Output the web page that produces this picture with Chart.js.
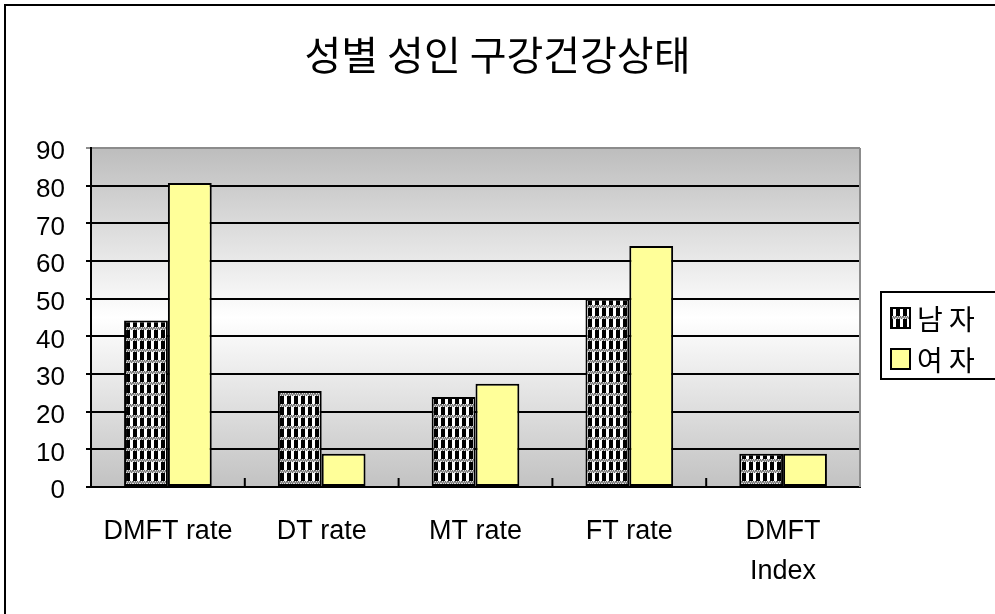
<!DOCTYPE html>
<html>
<head>
<meta charset="utf-8">
<script src="https://cdn.jsdelivr.net/npm/chart.js@4.4.1/dist/chart.umd.min.js"></script>
<style>
  html, body { margin: 0; padding: 0; background: #fff; overflow: hidden; }
  #wrap { position: absolute; left: 0; top: 0; width: 995px; height: 614px; }
</style>
</head>
<body>
<div id="wrap"><canvas id="myChart" width="995" height="614"></canvas></div>
<script>
// data
var categories = ['DMFT rate', 'DT rate', 'MT rate', 'FT rate', ['DMFT', 'Index']];
var maleVals = [44.2, 25.5, 23.9, 50, 8.8];
var femaleVals = [80.7, 8.8, 27.4, 64, 8.8];
var seriesNames = ['남 자', '여 자'];
var yTicks = [0, 10, 20, 30, 40, 50, 60, 70, 80, 90];

// checkered fill for the male bars
function makePattern() {
  var c = document.createElement('canvas');
  c.width = 7; c.height = 11;
  var g = c.getContext('2d');
  g.fillStyle = '#fff';
  g.fillRect(0, 0, 7, 11);
  g.fillStyle = '#000';
  g.fillRect(0, 0, 4, 8);
  for (var x = 0; x < 7; x++) {
    g.fillStyle = (x % 2 == 0) ? '#6e6e6e' : '#dcdcdc';
    g.fillRect(x, 8, 1, 1);
    g.fillStyle = '#909090';
    g.fillRect(x, 9, 1, 1);
    g.fillStyle = (x % 2 == 1) ? '#6e6e6e' : '#dcdcdc';
    g.fillRect(x, 10, 1, 1);
  }
  return g.createPattern(c, 'repeat');
}
var malePattern = makePattern();

var bgPlugin = {
  id: 'bgPlugin',
  beforeDraw: function(chart) {
    var ctx = chart.ctx, a = chart.chartArea;
    ctx.save();
    ctx.fillStyle = '#fff';
    ctx.fillRect(0, 0, chart.width, chart.height);
    var grad = ctx.createLinearGradient(0, a.top, 0, a.bottom);
    grad.addColorStop(0, '#bdbdbd');
    grad.addColorStop(0.5, '#ffffff');
    grad.addColorStop(1, '#c2c2c2');
    ctx.fillStyle = grad;
    ctx.fillRect(a.left, a.top, a.right - a.left, a.bottom - a.top);
    // frame around the whole chart
    ctx.strokeStyle = '#000';
    ctx.lineWidth = 2;
    ctx.strokeRect(5, 5, 1200, 1200);
    ctx.restore();
  },
  afterDatasetsDraw: function(chart) {
    var ctx = chart.ctx, a = chart.chartArea;
    var xs = chart.scales.x;
    ctx.save();
    // gray right edge of the plot
    ctx.strokeStyle = '#8c8c8c';
    ctx.lineWidth = 2;
    ctx.beginPath();
    ctx.moveTo(a.right, a.top);
    ctx.lineTo(a.right, a.bottom);
    ctx.stroke();
    // small inward ticks between categories
    ctx.strokeStyle = '#000';
    ctx.lineWidth = 2;
    for (var i = 0; i < categories.length - 1; i++) {
      var px = (xs.getPixelForValue(i) + xs.getPixelForValue(i + 1)) / 2;
      ctx.beginPath();
      ctx.moveTo(px, a.bottom);
      ctx.lineTo(px, a.bottom - 9);
      ctx.stroke();
    }
    ctx.restore();
  },
  afterDraw: function(chart) {
    // legend box
    var ctx = chart.ctx;
    ctx.save();
    ctx.fillStyle = '#fff';
    ctx.fillRect(881, 292, 200, 87);
    ctx.strokeStyle = '#000';
    ctx.lineWidth = 2;
    ctx.strokeRect(881, 292, 200, 87);
    chart.data.datasets.forEach(function(ds, i) {
      var cy = 318 + i * 41;
      ctx.fillStyle = ds.backgroundColor;
      ctx.fillRect(891, cy - 10, 19, 20);
      ctx.strokeStyle = '#000';
      ctx.lineWidth = 2;
      ctx.strokeRect(891, cy - 10, 19, 20);
      ctx.fillStyle = '#000';
      ctx.font = '28px "Noto Sans CJK KR"';
      ctx.textBaseline = 'middle';
      ctx.fillText(ds.label, 917, cy + 1);
    });
    ctx.restore();
  }
};

new Chart(document.getElementById('myChart'), {
  type: 'bar',
  data: {
    labels: categories,
    datasets: [{
      label: seriesNames[0],
      data: maleVals,
      backgroundColor: malePattern,
      borderColor: '#000',
      borderWidth: 2,
      borderSkipped: false
    }, {
      label: seriesNames[1],
      data: femaleVals,
      backgroundColor: '#ffff99',
      borderColor: '#000',
      borderWidth: 2,
      borderSkipped: false
    }]
  },
  plugins: [bgPlugin],
  options: {
    responsive: false,
    animation: false,
    layout: { padding: 0 },
    datasets: { bar: { categoryPercentage: 0.57, barPercentage: 1 } },
    plugins: {
      legend: { display: false },
      tooltip: { enabled: false },
      title: {
        display: true,
        text: '성별 성인 구강건강상태',
        color: '#000',
        font: { family: '"Noto Sans CJK KR"', size: 40, weight: '400', lineHeight: 1.2 },
        padding: { top: 31, bottom: 69 }
      }
    },
    scales: {
      x: {
        grid: { display: false, drawTicks: false },
        border: { display: true, color: '#000', width: 2 },
        ticks: {
          color: '#000',
          padding: 24,
          maxRotation: 0,
          autoSkip: false,
          font: { family: '"Liberation Sans"', size: 27, lineHeight: 1.5 }
        },
        afterFit: function(scale) { scale.height = 127; }
      },
      y: {
        min: 0,
        max: 90,
        afterBuildTicks: function(scale) {
          scale.ticks = yTicks.map(function(v) { return { value: v }; });
        },
        grid: {
          color: function(c) { return c.tick && c.tick.value == 90 ? '#8c8c8c' : '#000'; },
          lineWidth: 2,
          tickLength: 5,
          drawTicks: true
        },
        border: { display: true, color: '#000', width: 2 },
        ticks: {
          color: '#000',
          padding: 21,
          labelOffset: 4,
          font: { family: '"Liberation Sans"', size: 26 }
        },
        afterFit: function(scale) { scale.width = 91; }
      },
      // empty right-hand room where the legend sits
      yRight: {
        position: 'right',
        display: true,
        grid: { display: false, drawTicks: false },
        border: { display: false },
        ticks: { display: false },
        afterFit: function(scale) { scale.width = 135; }
      }
    }
  }
});
</script>
</body>
</html>
